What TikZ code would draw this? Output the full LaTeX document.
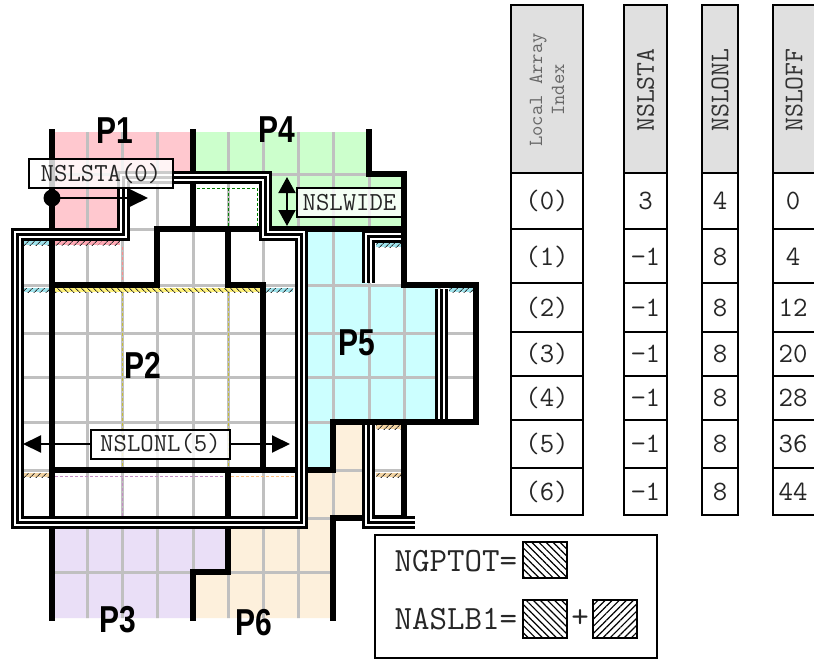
\documentclass[tikz,border=0pt]{standalone}
\usepackage{fontspec}
\setmainfont{Liberation Sans}
\usetikzlibrary{arrows.meta,patterns.meta}

\definecolor{ponepink}{HTML}{FFC8CF}
\definecolor{pfourgreen}{HTML}{CCFFCC}
\definecolor{pfivecyan}{HTML}{CCFFFF}
\definecolor{pthreelilac}{HTML}{EADFF7}
\definecolor{psixpeach}{HTML}{FDF0DC}
\definecolor{gridgrey}{HTML}{C0C0C0}
\definecolor{headgrey}{HTML}{E0E0E0}
\definecolor{stripcyan}{HTML}{9EE3EC}
\definecolor{stripyellow}{HTML}{FFF27A}
\definecolor{strippink}{HTML}{FFA8B4}
\definecolor{strippeach}{HTML}{F2D3A2}

\begin{document}
\begin{tikzpicture}[x=1pt,y=-1pt,
  gridline/.style={gridgrey,line width=3pt},
  procline/.style={line width=5.5pt,line cap=rect},
  halo/.style={line width=13pt,postaction={draw=black,line width=13pt},postaction={draw=white,line width=7pt},postaction={draw=black,line width=3pt}},
  strip/.style={preaction={fill=#1},pattern={Lines[angle=45,distance=4pt,line width=.9pt]},pattern color=black!80},
  backstrip/.style={preaction={fill=#1},pattern={Lines[angle=-45,distance=4pt,line width=.9pt]},pattern color=black!80},
  halodash/.style={#1,line width=1pt,densely dashed},
  proc/.style={font=\fontsize{30}{30}\selectfont\bfseries,yscale=1.25},
  tag/.style={draw,line width=2pt,fill=white,fill opacity=.8,text opacity=1,minimum height=29pt,inner xsep=4pt,font=\fontsize{26}{26}\selectfont\ttfamily,text=black!85},
  pointer/.style={line width=2pt,-{Triangle[length=18pt,width=17pt]}},
  tableline/.style={line width=2pt},
  cell/.style={font=\fontsize{28}{28}\selectfont\ttfamily,text=black!85},
  head/.style={rotate=90,font=\fontsize{27}{27}\selectfont\ttfamily,text=black!80},
  legend/.style={font=\fontsize{34}{34}\selectfont\ttfamily,text=black!85},
  swatch/.style={draw,line width=2pt,minimum width=44pt,pattern={Lines[angle=#1,distance=5pt,line width=1.2pt]}}]

\useasboundingbox (0,0) rectangle (814,661);
\fill[white] (0,0) rectangle (814,661);

% processor areas
\fill[ponepink] (52,132) rectangle (193,174) (52,174) rectangle (122,229);
\fill[pfourgreen] (193,132) rectangle (369,174) (263,174) rectangle (404,229);
\fill[pfivecyan] (298,229) rectangle (369,285) (298,285) rectangle (439,422) (298,422) rectangle (333,470);
\fill[pthreelilac] (52,518) rectangle (228,572) (52,572) rectangle (193,618);
\fill[psixpeach] (333,422) rectangle (369,470) (298,470) rectangle (369,518) (228,518) rectangle (333,572) (193,572) rectangle (333,618);

% grid points
\begin{scope}
  \clip (52,132) -- (369,132) -- (369,174) -- (404,174) -- (404,285) -- (476,285) -- (476,422) -- (404,422) -- (404,518) -- (333,518) -- (333,618) -- (52,618) -- (52,518) -- (17,518) -- (17,229) -- (52,229) -- cycle;
  \draw[gridline] (87,100) -- (87,650) (122,100) -- (122,650) (157,100) -- (157,650) (193,100) -- (193,650)
    (228,100) -- (228,650) (263,100) -- (263,650) (298,100) -- (298,650) (333,100) -- (333,650)
    (369,100) -- (369,650) (404,100) -- (404,650) (439,100) -- (439,650);
  \draw[gridline] (0,174) -- (500,174) (0,229) -- (500,229) (0,285) -- (500,285) (0,333) -- (500,333)
    (0,377) -- (500,377) (0,422) -- (500,422) (0,470) -- (500,470) (0,518) -- (500,518) (0,572) -- (500,572);
\end{scope}

% halo strips
\path[strip=stripcyan] (24,241) rectangle (50,245);
\path[strip=strippink] (54,241) rectangle (120,245);
\path[strip=stripcyan] (24,288) rectangle (50,292);
\path[backstrip=stripyellow] (54,288) rectangle (261,292);
\path[strip=stripcyan] (265,288) rectangle (293,292);
\path[strip=strippeach] (24,473) rectangle (50,477);
\path[strip=stripcyan] (376,243) rectangle (401,247);
\path[strip=stripcyan] (449,288) rectangle (473,292);
\path[strip=strippeach] (376,425) rectangle (401,429);
\path[strip=strippeach] (376,473) rectangle (401,477);

% halo outlines
\draw[halodash=red!45] (122,247) -- (122,283);
\draw[halodash=yellow!75!black] (122,293) -- (122,467) (228,293) -- (228,467);
\draw[halodash=violet!45] (122,478) -- (122,516) (55,476) -- (225,476);
\draw[halodash=orange!50] (231,476) -- (296,476);
\draw[halodash=green!50!black] (197,188) -- (257,188) (228,188) -- (228,226) (257,188) -- (257,226);

% processor boundaries
\draw[procline] (52,132) -- (52,618);
\draw[procline] (193,132) -- (193,229);
\draw[procline] (52,285) -- (157,285) -- (157,229) -- (404,229);
\draw[procline] (228,229) -- (228,285) -- (263,285) -- (263,470);
\draw[procline] (52,470) -- (333,470) -- (333,422) -- (476,422) -- (476,285) -- (404,285) -- (404,174) -- (369,174) -- (369,132);
\draw[procline] (404,422) -- (404,518) -- (333,518) -- (333,618);
\draw[procline] (228,470) -- (228,572) -- (193,572) -- (193,618);

% halo frames
\draw[halo] (17,234) -- (123,234) -- (123,177) -- (265,177) -- (265,234) -- (301,234) -- (301,522) -- (17,522) -- cycle;
\draw[halo] (401,236) -- (368,236) -- (368,283);
\draw[halo] (441,289) -- (441,419);
\draw[halo] (368,425) -- (368,522) -- (415,522);

% table
\fill[headgrey] (511,5) rectangle (583,173) (624,5) rectangle (667,173) (702,5) rectangle (738,173) (773,5) rectangle (818,173);
\draw[tableline] (511,5) rectangle (583,515) (624,5) rectangle (667,515) (702,5) rectangle (738,515) (773,5) rectangle (818,515);
\draw[tableline] (511,173) -- (583,173) (624,173) -- (667,173) (702,173) -- (738,173) (773,173) -- (818,173);
\draw[tableline] (511,229) -- (583,229) (624,229) -- (667,229) (702,229) -- (738,229) (773,229) -- (818,229);
\draw[tableline] (511,283) -- (583,283) (624,283) -- (667,283) (702,283) -- (738,283) (773,283) -- (818,283);
\draw[tableline] (511,332) -- (583,332) (624,332) -- (667,332) (702,332) -- (738,332) (773,332) -- (818,332);
\draw[tableline] (511,376) -- (583,376) (624,376) -- (667,376) (702,376) -- (738,376) (773,376) -- (818,376);
\draw[tableline] (511,420) -- (583,420) (624,420) -- (667,420) (702,420) -- (738,420) (773,420) -- (818,420);
\draw[tableline] (511,468) -- (583,468) (624,468) -- (667,468) (702,468) -- (738,468) (773,468) -- (818,468);

\node[head,align=center,text=black!60,font=\fontsize{20}{22}\selectfont\ttfamily] (hidx) at (547,90) {Local Array\\Index};
\node[head] (hsta) at (645.5,90) {NSLSTA};
\node[head] (hlonl) at (720,90) {NSLONL};
\node[head] (hoff) at (794,90) {NSLOFF};

\node[cell] (idx0) at (547,201) {(0)};
\node[cell] (idx1) at (547,257) {(1)};
\node[cell] (idx2) at (547,307.5) {(2)};
\node[cell] (idx3) at (547,354) {(3)};
\node[cell] (idx4) at (547,398) {(4)};
\node[cell] (idx5) at (547,444) {(5)};
\node[cell] (idx6) at (547,491.5) {(6)};
\node[cell] (sta0) at (645.5,201) {3};
\node[cell] (sta1) at (645.5,257) {−1};
\node[cell] (sta2) at (645.5,307.5) {−1};
\node[cell] (sta3) at (645.5,354) {−1};
\node[cell] (sta4) at (645.5,398) {−1};
\node[cell] (sta5) at (645.5,444) {−1};
\node[cell] (sta6) at (645.5,491.5) {−1};
\node[cell] (lonl0) at (720,201) {4};
\node[cell] (lonl1) at (720,257) {8};
\node[cell] (lonl2) at (720,307.5) {8};
\node[cell] (lonl3) at (720,354) {8};
\node[cell] (lonl4) at (720,398) {8};
\node[cell] (lonl5) at (720,444) {8};
\node[cell] (lonl6) at (720,491.5) {8};
\node[cell] (off0) at (793,201) {0};
\node[cell] (off1) at (793,257) {4};
\node[cell] (off2) at (793,307.5) {12};
\node[cell] (off3) at (793,354) {20};
\node[cell] (off4) at (793,398) {28};
\node[cell] (off5) at (793,444) {36};
\node[cell] (off6) at (793,491.5) {44};

% sizes
\node[tag,minimum width=144pt] (nslsta) at (101,173.5) {NSLSTA(0)};
\node[circle,fill,inner sep=0pt,minimum size=17pt] (stadot) at (52,198) {};
\coordinate (staend) at (148,198);
\draw[pointer] (stadot.center) -- (staend);

\node[tag,minimum width=105pt] (nslwide) at (349.5,202.5) {NSLWIDE};
\coordinate (widetop) at (287,177);
\coordinate (widebot) at (287,226);
\draw[line width=2pt,{Triangle[length=16pt,width=17pt]}-{Triangle[length=16pt,width=17pt]}] (widetop) -- (widebot);

\node[tag,minimum width=139pt] (nslonl) at (160.5,444) {NSLONL(5)};
\coordinate (lonlwest) at (23,444);
\coordinate (lonleast) at (290,444);
\draw[pointer] (nslonl) -- (lonlwest);
\draw[pointer] (nslonl) -- (lonleast);

% processors
\node[proc] (pone) at (115,131) {P1};
\node[proc] (pfour) at (277,130) {P4};
\node[proc] (ptwo) at (143,365) {P2};
\node[proc] (pfive) at (357,343) {P5};
\node[proc] (pthree) at (118,620) {P3};
\node[proc] (psix) at (254,623) {P6};

% legend
\node[draw,line width=2pt,minimum width=282pt,minimum height=123pt] (key) at (516,596.5) {};
\node[legend,anchor=west] (ngptot) at (391,561) {NGPTOT=};
\node[swatch=-45,minimum height=36pt] (ngpbox) at (545,560) {};
\node[legend,anchor=west] (naslb) at (391,619) {NASLB1=};
\node[swatch=-45,minimum height=38pt] (naslbone) at (545,619) {};
\node[legend] (plus) at (580,619) {+};
\node[swatch=45,minimum height=38pt] (naslbtwo) at (614.5,619) {};
\end{tikzpicture}
\end{document}
